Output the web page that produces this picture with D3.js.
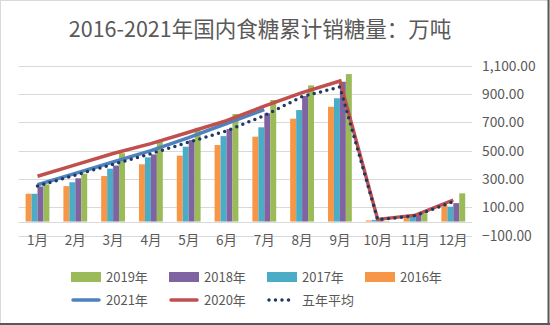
<!DOCTYPE html>
<html>
<head>
<meta charset="utf-8">
<script src="https://cdn.jsdelivr.net/npm/d3@7"></script>
<style>
  body { margin: 0; background: #fff; }
  text { font-family: "Noto Sans CJK SC", "Noto Sans", sans-serif; }
</style>
</head>
<body>
<div id="chart-area"></div>
<script>
// data
var months = ["1月","2月","3月","4月","5月","6月","7月","8月","9月","10月","11月","12月"];
var v2016 = [196, 250, 321, 404, 465, 540, 599, 726, 810, 8, 30, 118];
var v2017 = [196, 277, 373, 453, 528, 603, 665, 787, 870, 12, 34, 105];
var v2018 = [248, 305, 395, 474, 575, 653, 764, 886, 987, 5, 47, 130];
var v2019 = [262, 338, 482, 566, 662, 759, 858, 961, 1041, 3, 58, 199];
var v2020 = [320, 400, 480, 550, 630, 712, 815, 910, 992, 15, 45, 152];
var v2021 = [260, 340, 420, 500, 592, 692, 790];
var vAvg  = [250, 328, 404, 479, 560, 640, 748, 882, 950, 12, 42, 140];
var yTicks = [-100, 100, 300, 500, 700, 900, 1100];

var barSeries = [
  { name: "2016年", values: v2016, color: "#F79646" },
  { name: "2017年", values: v2017, color: "#4BACC6" },
  { name: "2018年", values: v2018, color: "#8064A2" },
  { name: "2019年", values: v2019, color: "#9BBB59" }
];

var W = 550, H = 325;
var svg = d3.select("#chart-area").append("svg")
  .attr("width", W)
  .attr("height", H);

// border
svg.append("rect").attr("x", 0.5).attr("y", 0.5).attr("width", W - 1.5).attr("height", H - 1.5)
  .attr("fill", "#fff").attr("stroke", "#d9d9d9");
svg.append("line").attr("x1", W - 1.5).attr("x2", W - 1.5).attr("y1", 0).attr("y2", H).attr("stroke", "#595959").attr("stroke-width", 2);
svg.append("line").attr("x1", 0).attr("x2", W).attr("y1", H - 1).attr("y2", H - 1).attr("stroke", "#595959").attr("stroke-width", 2);

// title
svg.append("text")
  .attr("x", 260).attr("y", 37)
  .attr("text-anchor", "middle")
  .attr("font-size", 21.5)
  .attr("fill", "#595959")
  .text("2016-2021年国内食糖累计销糖量：万吨");

// scales
var x = d3.scaleBand()
  .domain(months)
  .range([18.6, 472.2])
  .paddingInner(0.37)
  .paddingOuter(0.185);

var xs = d3.scaleBand()
  .domain(barSeries.map(d => d.name))
  .range([0, x.bandwidth()]);

var y = d3.scaleLinear()
  .domain([-100, 1100])
  .range([235.7, 65.7]);

// gridlines
svg.append("g").selectAll("line")
  .data(yTicks.concat([0]))
  .enter().append("line")
  .attr("x1", 18.6).attr("x2", 472.2)
  .attr("y1", d => Math.round(y(d)) + 0.5)
  .attr("y2", d => Math.round(y(d)) + 0.5)
  .attr("stroke", "#d9d9d9");

// right axis
var yAxis = d3.axisRight(y).tickValues(yTicks).tickFormat(d3.format(",.2f")).tickSize(0).tickPadding(0);
var ya = svg.append("g").attr("transform", "translate(482,0)").call(yAxis);
ya.select(".domain").remove();
ya.selectAll("text").attr("font-size", 13.8).attr("fill", "#595959")
  .style("font-family", "\"Noto Sans CJK SC\", sans-serif");

// category labels
var xAxis = d3.axisBottom(x).tickSize(0).tickPadding(0);
var xa = svg.append("g").attr("transform", "translate(0,235)").call(xAxis);
xa.select(".domain").remove();
xa.selectAll("text").attr("font-size", 13.5).attr("fill", "#595959")
  .style("font-family", "\"Noto Sans CJK SC\", sans-serif");

// bars
barSeries.forEach(function(s) {
  svg.append("g").selectAll("rect")
    .data(s.values)
    .enter().append("rect")
    .attr("x", (d, i) => x(months[i]) + xs(s.name))
    .attr("width", xs.bandwidth())
    .attr("y", d => y(Math.max(0, d)))
    .attr("height", d => Math.abs(y(d) - y(0)))
    .attr("fill", s.color);
});

// lines
var line = d3.line()
  .x((d, i) => x(months[i]) + x.bandwidth() / 2)
  .y(d => y(d));

svg.append("path").datum(v2021).attr("d", line)
  .attr("fill", "none").attr("stroke", "#4F81BD").attr("stroke-width", 3.5);
svg.append("path").datum(v2020).attr("d", line)
  .attr("fill", "none").attr("stroke", "#C0504D").attr("stroke-width", 3.5);
svg.append("path").datum(vAvg).attr("d", line)
  .attr("fill", "none").attr("stroke", "#1F3864").attr("stroke-width", 3.5)
  .attr("stroke-linecap", "round").attr("stroke-dasharray", "0,6.5");

// legend
var legend1 = [
  { name: "2019年", color: "#9BBB59", x: 71 },
  { name: "2018年", color: "#8064A2", x: 169 },
  { name: "2017年", color: "#4BACC6", x: 267 },
  { name: "2016年", color: "#F79646", x: 365 }
];
var lg1 = svg.append("g").selectAll("g").data(legend1).enter().append("g");
lg1.append("rect").attr("x", d => d.x).attr("y", 272).attr("width", 30).attr("height", 10).attr("fill", d => d.color);
lg1.append("text").attr("x", d => d.x + 35).attr("y", 282).attr("font-size", 13).attr("fill", "#595959").text(d => d.name);

var legend2 = [
  { name: "2021年", color: "#4F81BD", x: 71, dash: null },
  { name: "2020年", color: "#C0504D", x: 169, dash: null },
  { name: "五年平均", color: "#1F3864", x: 267, dash: "0,6.5" }
];
var lg2 = svg.append("g").selectAll("g").data(legend2).enter().append("g");
lg2.append("line")
  .attr("x1", d => d.x + 2).attr("x2", d => d.x + 28)
  .attr("y1", 300).attr("y2", 300)
  .attr("stroke", d => d.color).attr("stroke-width", 3.5)
  .attr("stroke-linecap", "round")
  .attr("stroke-dasharray", d => d.dash);
lg2.append("text").attr("x", d => d.x + 35).attr("y", 305).attr("font-size", 13).attr("fill", "#595959").text(d => d.name);
</script>
</body>
</html>
